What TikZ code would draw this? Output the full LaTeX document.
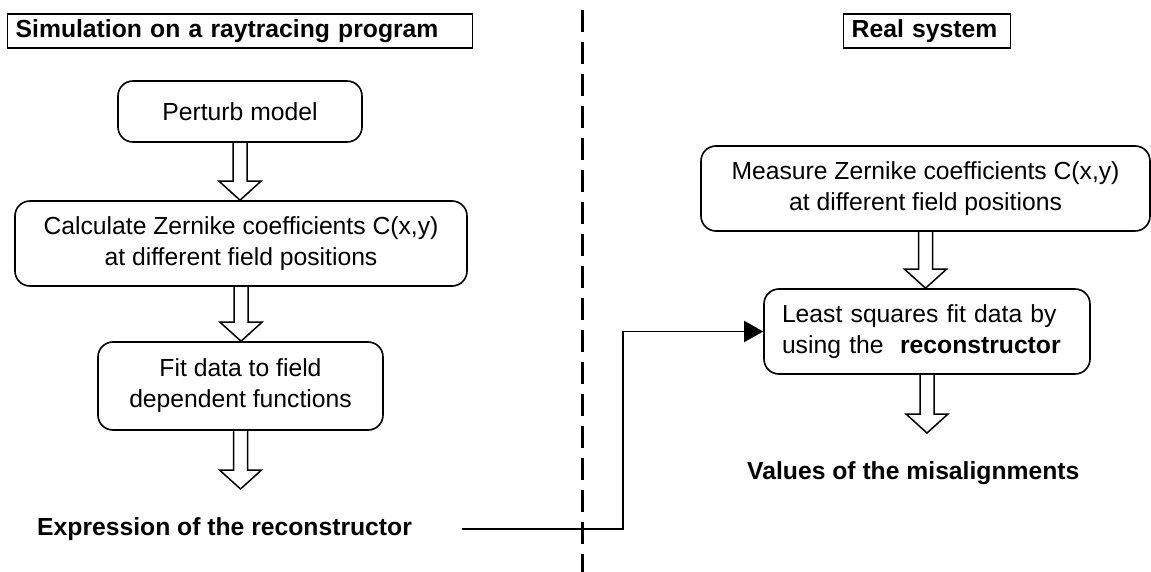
\documentclass[tikz,border=0pt]{standalone}
\usepackage{fontspec}
\setmainfont{Liberation Sans}
\usepackage{tikz}
\usetikzlibrary{arrows.meta, positioning, calc}

% hollow block arrow from a box down to a tip
\newcommand{\hollowarrow}[2]{%
  \path (#1 |- #2) coordinate (tip);
  \draw[hollow] ($(#1)+(-7,0)$) -- ($(tip)+(-7,-19)$) -- ($(tip)+(-21,-19)$) -- (tip)
    -- ($(tip)+(21,-19)$) -- ($(tip)+(7,-19)$) -- ($(#1)+(7,0)$);
}

\begin{document}
\begin{tikzpicture}[x=1pt, y=-1pt,
    font=\fontsize{24.7}{31}\selectfont,
    headbox/.style={draw, line width=1.4pt, inner xsep=8pt, inner ysep=0pt, minimum height=34pt,
      align=left, font=\fontsize{24.7}{31}\selectfont\bfseries},
    stepbox/.style={draw, line width=1.6pt, rounded corners=15pt, align=center, inner sep=0pt},
    boldtext/.style={inner sep=0pt, font=\fontsize{24.7}{31}\selectfont\bfseries},
    hollow/.style={line width=1.5pt},
    link/.style={line width=1.4pt, -{Triangle[length=19pt,width=21pt]}},
    divider/.style={line width=3pt, dash pattern=on 22pt off 10pt}]
  \useasboundingbox (0,0) rectangle (1151,572);

  % --- HEADERS ---
  \node[headbox, text width=449pt, anchor=west] (simtitle) at (7,31) {Simulation on a raytracing program};
  \node[headbox, text width=151pt, anchor=west] (realtitle) at (843,31) {Real system};

  % --- SIMULATION SIDE ---
  \node[stepbox, minimum width=244pt, minimum height=61pt] (perturb) at (240,111.5) {Perturb model};
  \node[stepbox, minimum width=452pt, minimum height=85pt] (calc) at (241,243.5)
    {Calculate Zernike coefficients C(x,y)\\at different field positions};
  \node[stepbox, minimum width=285pt, minimum height=88pt] (fit) at (240.5,386)
    {Fit data to field\\dependent functions};
  \node[boldtext, anchor=west] (expr) at (37,529) {Expression of the reconstructor};
  \coordinate (fitend) at (240.5,489);

  \hollowarrow{perturb.south}{calc.north}
  \hollowarrow{calc.south}{fit.north}
  \hollowarrow{fit.south}{fitend}

  % --- REAL SYSTEM SIDE ---
  \node[stepbox, minimum width=449pt, minimum height=85pt] (measure) at (925.5,188.5)
    {Measure Zernike coefficients C(x,y)\\at different field positions};
  \node[stepbox, minimum width=326pt, minimum height=85pt, text width=290pt, align=left] (lsq) at (927,331.5)
    {Least squares fit data by\\using the~ \textbf{reconstructor}};
  \node[boldtext, anchor=west] (values) at (747,473) {Values of the misalignments};
  \coordinate (lsqend) at (927,433);

  \hollowarrow{measure.south}{lsq.north}
  \hollowarrow{lsq.south}{lsqend}

  % --- DIVIDER & LINK ---
  \draw[divider] (582,10) -- (582,572);
  \coordinate (jog) at (623,529);
  \draw[link, shorten <=50pt] (expr.east) -- (jog) |- (lsq.west);

\end{tikzpicture}
\end{document}
